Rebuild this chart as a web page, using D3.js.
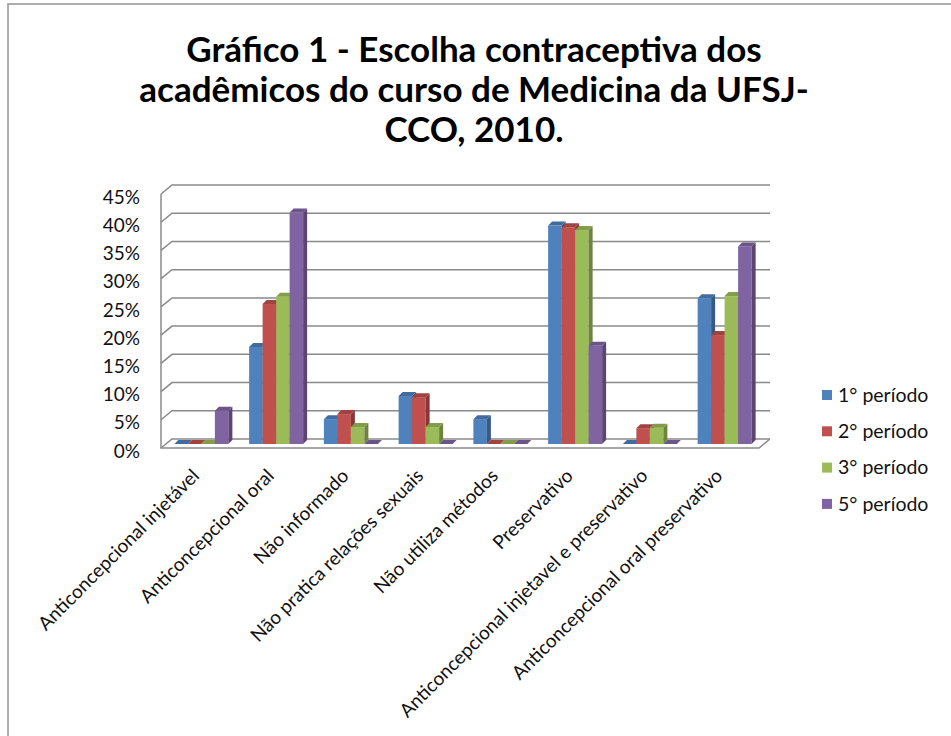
<!DOCTYPE html>
<html>
<head>
<meta charset="utf-8">
<script src="https://cdn.jsdelivr.net/npm/d3@7"></script>
<style>
  body { margin: 0; background: #fff; }
  svg { display: block; font-family: Lato, "Open Sans", sans-serif; }
</style>
</head>
<body>
<svg id="chart" width="951" height="736"></svg>
<script>
(function () {

    var categories = [
            "Anticoncepcional injetável",
            "Anticoncepcional oral",
            "Não informado",
            "Não pratica relações sexuais",
            "Não utiliza métodos",
            "Preservativo",
            "Anticoncepcional injetavel e preservativo",
            "Anticoncepcional oral preservativo"
        ],
        seriesNames = ["1° período", "2° período", "3° período", "5° período"],
        periodo1 = [0, 17.2, 4.4, 8.5, 4.4, 38.7, 0, 25.8],
        periodo2 = [0, 24.8, 5.3, 8.3, 0, 38.4, 2.8, 19.3],
        periodo3 = [0, 26.1, 3.0, 3.0, 0, 37.9, 2.9, 26.2],
        periodo5 = [5.9, 41.0, 0, 0, 0, 17.4, 0, 35.0],
        seriesColors = ["#4F81BD", "#C0504D", "#9BBB59", "#8064A2"],
        yTicks = [0, 5, 10, 15, 20, 25, 30, 35, 40, 45],
        titleLines = [
            "Gráfico 1 - Escolha contraceptiva dos",
            "acadêmicos do curso de Medicina da UFSJ-",
            "CCO, 2010."
        ];

    var allSeries = [periodo1, periodo2, periodo3, periodo5];

    var svg = d3.select("#chart"),
        wallDx = 11, wallDy = 9,      // back wall -> front edge
        barDx = 8, barDy = 5,         // back wall -> bar front face
        barDepth = 4;

    // outer frame (only left and top edges are in view)
    svg.append("rect")
        .attr("x", 8).attr("y", 4)
        .attr("width", 1200).attr("height", 1200)
        .attr("fill", "none")
        .attr("stroke", "#9a9a9a")
        .attr("stroke-width", 1.6);

    // title
    svg.append("text")
        .attr("x", 474)
        .attr("y", 62)
        .attr("text-anchor", "middle")
        .style("font-weight", "bold")
        .style("font-size", "35px")
        .style("fill", "#000")
        .selectAll("tspan")
        .data(titleLines)
        .enter().append("tspan")
            .attr("x", 474)
            .attr("dy", function (d, i) { return i ? 40 : 0; })
            .text(function (d) { return d; });

    var x = d3.scaleBand()
        .domain(categories)
        .range([172, 770]);

    var y = d3.scaleLinear()
        .domain([0, 45])
        .range([439, 185]);

    var x1 = d3.scaleBand()
        .domain(seriesNames)
        .range([0, 54]);

    var color = d3.scaleOrdinal()
        .domain(seriesNames)
        .range(seriesColors);

    var grid = svg.append("g")
        .attr("fill", "none")
        .attr("stroke", "#8a8a8a")
        .attr("stroke-width", 1.5);

    // back wall gridlines with their short run on the side wall
    grid.selectAll("path.grid")
        .data(yTicks)
        .enter().append("path")
            .attr("class", "grid")
            .attr("d", function (d) {
                var yb = y(d);
                return "M" + (x.range()[0] - wallDx) + "," + (yb + wallDy) +
                       "L" + x.range()[0] + "," + yb +
                       "L" + x.range()[1] + "," + yb;
            });

    // left axis edge and floor edges
    grid.append("path")
        .attr("d", "M" + (x.range()[0] - wallDx) + "," + (y(45) + wallDy) +
                   "L" + (x.range()[0] - wallDx) + "," + (y(0) + wallDy) +
                   "L" + (x.range()[1] - wallDx) + "," + (y(0) + wallDy) +
                   "L" + x.range()[1] + "," + y(0));

    // y tick labels
    svg.append("g")
        .selectAll("text")
        .data(yTicks)
        .enter().append("text")
            .attr("x", 140)
            .attr("y", function (d) { return y(d) + wallDy + 3; })
            .attr("dy", "0.35em")
            .attr("text-anchor", "end")
            .style("font-size", "19px")
            .style("fill", "#111")
            .text(function (d) { return d + "%"; });

    // 3d columns
    var groups = svg.append("g")
        .selectAll("g")
        .data(categories)
        .enter().append("g")
            .attr("transform", function (d) {
                return "translate(" + (x(d) + (x.bandwidth() - 54) / 2 - barDx) + ",0)";
            });

    groups.selectAll("g")
        .data(function (d, ci) {
            return seriesNames.map(function (s, si) {
                return { series: s, value: allSeries[si][ci] };
            });
        })
        .enter().append("g")
        .each(function (d) {
            var g = d3.select(this),
                x0 = x1(d.series),
                w = x1.bandwidth(),
                yTop = y(d.value) + barDy,
                yBot = y(0) + barDy,
                c = d3.color(color(d.series));

            g.append("rect")
                .attr("x", x0)
                .attr("y", yTop)
                .attr("width", w)
                .attr("height", yBot - yTop)
                .attr("fill", c.formatHex());

            g.append("path")
                .attr("d", "M" + (x0 + w) + "," + yTop +
                           "L" + (x0 + w + barDepth) + "," + (yTop - barDepth) +
                           "L" + (x0 + w + barDepth) + "," + (yBot - barDepth) +
                           "L" + (x0 + w) + "," + yBot + "Z")
                .attr("fill", c.darker(1.0).formatHex());

            g.append("path")
                .attr("d", "M" + x0 + "," + yTop +
                           "L" + (x0 + barDepth) + "," + (yTop - barDepth) +
                           "L" + (x0 + w + barDepth) + "," + (yTop - barDepth) +
                           "L" + (x0 + w) + "," + yTop + "Z")
                .attr("fill", c.darker(0.5).formatHex());
        });

    // category labels
    svg.append("g")
        .selectAll("text")
        .data(categories)
        .enter().append("text")
            .attr("transform", function (d) {
                var cx = x(d) + x.bandwidth() / 2 - wallDx + 2;
                return "translate(" + cx + "," + 477 + ") rotate(-45)";
            })
            .attr("text-anchor", "end")
            .style("font-size", "19px")
            .style("fill", "#111")
            .text(function (d) { return d; });

    // legend
    var legend = svg.append("g")
        .selectAll("g")
        .data(seriesNames)
        .enter().append("g")
            .attr("transform", function (d, i) {
                return "translate(822," + (395 + i * 36.3) + ")";
            });

    legend.append("rect")
        .attr("x", 0).attr("y", -5)
        .attr("width", 10).attr("height", 10)
        .attr("fill", function (d) { return color(d); });

    legend.append("text")
        .attr("x", 16)
        .attr("dy", "0.35em")
        .style("font-size", "19.5px")
        .style("fill", "#111")
        .text(function (d) { return d; });

}());
</script>
</body>
</html>
